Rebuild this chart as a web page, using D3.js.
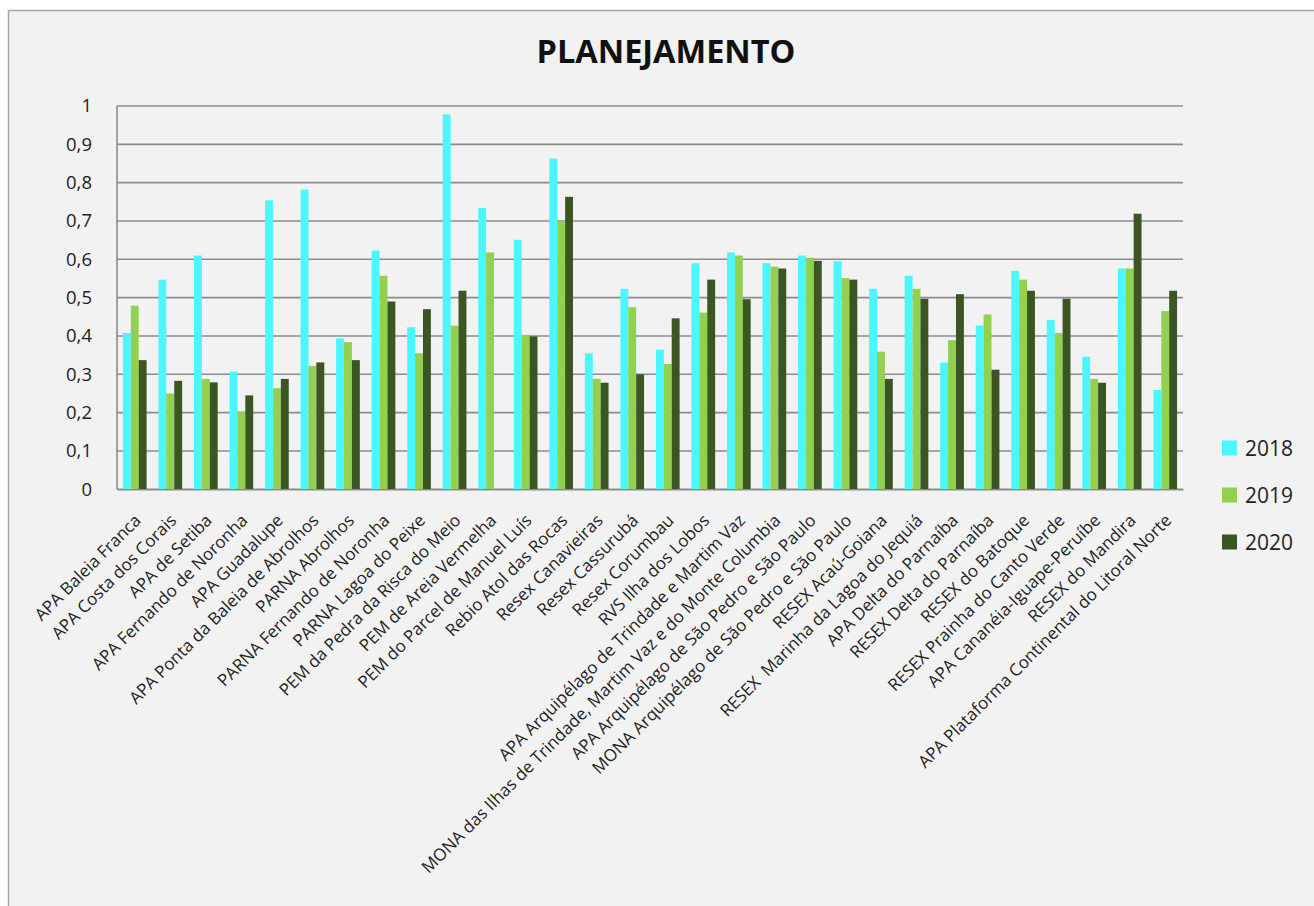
<!DOCTYPE html>
<html>
<head>
<meta charset="utf-8">
<script src="https://cdn.jsdelivr.net/npm/d3@7"></script>
<style>
  html, body { margin: 0; padding: 0; background: #ffffff; }
  svg { display: block; }
</style>
</head>
<body>
<svg id="chart" width="1314" height="906"></svg>
<script>
const categories = [
  "APA Baleia Franca",
  "APA Costa dos Corais",
  "APA de Setiba",
  "APA Fernando de Noronha",
  "APA Guadalupe",
  "APA Ponta da Baleia de Abrolhos",
  "PARNA Abrolhos",
  "PARNA Fernando de Noronha",
  "PARNA Lagoa do Peixe",
  "PEM da Pedra da Risca do Meio",
  "PEM de Areia Vermelha",
  "PEM do Parcel de Manuel Luís",
  "Rebio Atol das Rocas",
  "Resex Canavieiras",
  "Resex Cassurubá",
  "Resex Corumbau",
  "RVS Ilha dos Lobos",
  "APA Arquipélago de Trindade e Martim Vaz",
  "MONA das Ilhas de Trindade, Martim Vaz e do Monte Columbia",
  "APA Arquipélago de São Pedro e São Paulo",
  "MONA Arquipélago de São Pedro e São Paulo",
  "RESEX Acaú-Goiana",
  "RESEX  Marinha da Lagoa do Jequiá",
  "APA Delta do Parnaíba",
  "RESEX Delta do Parnaíba",
  "RESEX do Batoque",
  "RESEX Prainha do Canto Verde",
  "APA Cananéia-Iguape-Peruíbe",
  "RESEX do Mandira",
  "APA Plataforma Continental do Litoral Norte"
];
const seriesNames = ["2018", "2019", "2020"];
const values2018 = [0.408, 0.547, 0.610, 0.307, 0.754, 0.782, 0.394, 0.623, 0.423, 0.978,
                    0.734, 0.651, 0.863, 0.355, 0.523, 0.364, 0.590, 0.618, 0.590, 0.610,
                    0.595, 0.523, 0.557, 0.331, 0.427, 0.570, 0.442, 0.346, 0.576, 0.259];
const values2019 = [0.479, 0.250, 0.288, 0.203, 0.264, 0.322, 0.384, 0.557, 0.355, 0.427,
                    0.618, 0.403, 0.700, 0.288, 0.475, 0.327, 0.461, 0.610, 0.581, 0.604,
                    0.551, 0.359, 0.523, 0.389, 0.456, 0.547, 0.408, 0.288, 0.576, 0.465];
const values2020 = [0.337, 0.283, 0.279, 0.245, 0.288, 0.331, 0.337, 0.490, 0.470, 0.518,
                    0.000, 0.399, 0.763, 0.278, 0.300, 0.446, 0.547, 0.496, 0.576, 0.596,
                    0.547, 0.288, 0.497, 0.509, 0.312, 0.518, 0.497, 0.278, 0.719, 0.518];
const yTicks = [0, 0.1, 0.2, 0.3, 0.4, 0.5, 0.6, 0.7, 0.8, 0.9, 1];
const yTickLabels = ["0", "0,1", "0,2", "0,3", "0,4", "0,5", "0,6", "0,7", "0,8", "0,9", "1"];
const colors = ["#4bf7ff", "#92d050", "#3b5623"];
const title = "PLANEJAMENTO";

const seriesValues = [values2018, values2019, values2020];
const rows = categories.map((c, i) => ({ cat: c, vals: seriesValues.map(s => s[i]) }));

const svg = d3.select("#chart");
const W = 1314, H = 906;
const margin = { left: 117, right: 1183, top: 106, bottom: 489.3 };

// chart area background + border (left/top visible)
svg.append("rect").attr("x", 0).attr("y", 0).attr("width", W).attr("height", H).attr("fill", "#ffffff");
svg.append("rect").attr("x", 8.5).attr("y", 10.5).attr("width", W).attr("height", H)
  .attr("fill", "#f2f2f2").attr("stroke", "#a6a6a6").attr("stroke-width", 1.5);

const x0 = d3.scaleBand().domain(categories).range([margin.left, margin.right]).paddingInner(0).paddingOuter(0);
const gapRatio = 1.5; // excel gap width 150%
const barW = x0.bandwidth() / (3 + gapRatio);
const x1 = d3.scaleBand().domain(seriesNames).range([barW * gapRatio / 2, barW * gapRatio / 2 + barW * 3]);
const y = d3.scaleLinear().domain([0, 1]).range([margin.bottom, margin.top]);

// gridlines
svg.append("g").selectAll("line").data(yTicks).join("line")
  .attr("x1", margin.left).attr("x2", margin.right)
  .attr("y1", d => y(d)).attr("y2", d => y(d))
  .attr("stroke", "#8c8c8c").attr("stroke-width", 1.6);

// y axis line
svg.append("line").attr("x1", margin.left).attr("x2", margin.left)
  .attr("y1", margin.top).attr("y2", margin.bottom)
  .attr("stroke", "#8c8c8c").attr("stroke-width", 1.6);

// y axis tick labels via d3 axis
const yAxis = d3.axisLeft(y).tickValues(yTicks).tickFormat((d, i) => yTickLabels[i]).tickSize(0).tickPadding(25);
const gy = svg.append("g").attr("transform", `translate(${margin.left},0)`).call(yAxis);
gy.select(".domain").remove();
gy.selectAll("text").attr("font-family", "Open Sans, sans-serif").attr("font-size", 18.5).attr("fill", "#222");

// bars
const groups = svg.append("g").selectAll("g").data(rows).join("g")
  .attr("transform", d => `translate(${x0(d.cat)},0)`);
groups.selectAll("rect").data(d => d.vals.map((v, k) => ({ v, k }))).join("rect")
  .attr("x", d => x1(seriesNames[d.k]))
  .attr("width", x1.bandwidth())
  .attr("y", d => y(d.v))
  .attr("height", d => y(0) - y(d.v))
  .attr("fill", d => colors[d.k]);

// x axis labels via d3 axis
const xAxis = d3.axisBottom(x0).tickSize(0).tickPadding(0);
const gx = svg.append("g").attr("transform", `translate(0,${margin.bottom})`).call(xAxis);
gx.select(".domain").attr("stroke", "#8c8c8c").attr("stroke-width", 1.6);
gx.selectAll(".tick text")
  .attr("font-family", "Open Sans, sans-serif")
  .attr("font-size", 17)
  .attr("fill", "#222")
  .attr("text-anchor", "end")
  .attr("dy", "0.35em")
  .attr("y", 0)
  .attr("transform", "translate(3,28) rotate(-45)")
  .style("white-space", "pre")
  .attr("xml:space", "preserve");

// legend
const legend = svg.append("g");
seriesNames.forEach((s, k) => {
  const cy = 448 + k * 47;
  legend.append("rect").attr("x", 1222).attr("y", cy - 7.5).attr("width", 15).attr("height", 15)
    .attr("fill", colors[k]);
  legend.append("text").attr("x", 1245).attr("y", cy).attr("dy", "0.36em")
    .attr("font-family", "Open Sans, sans-serif").attr("font-size", 21).attr("fill", "#222").text(s);
});

// title
svg.append("text").attr("x", 666).attr("y", 63).attr("text-anchor", "middle")
  .attr("font-family", "Open Sans, sans-serif").attr("font-weight", "bold").attr("font-size", 32.5)
  .attr("fill", "#111").text(title);
</script>
</body>
</html>
